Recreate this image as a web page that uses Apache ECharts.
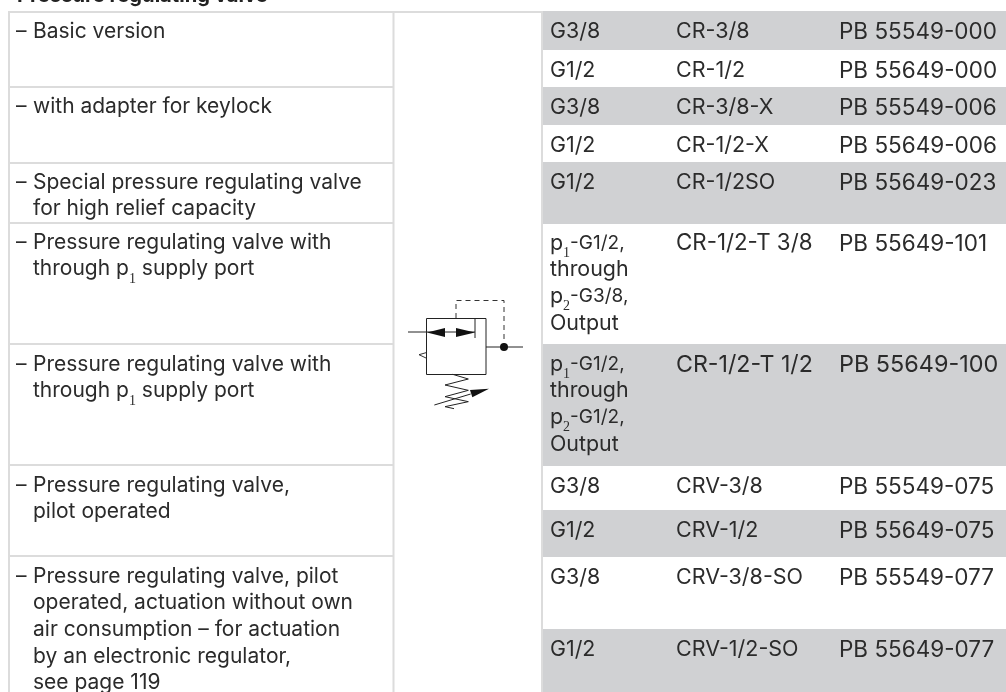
<!DOCTYPE html>
<html><head><meta charset="utf-8">
<style>html,body{margin:0;padding:0;background:#fff}#c{width:1006px;height:692px}</style>
<script src="https://cdn.jsdelivr.net/npm/echarts@6/dist/echarts.min.js"></script>
</head><body><div id="c"></div>
<script>
const title = "Pressure regulating valve";
const descriptions = [
  "– Basic version",
  "– with adapter for keylock",
  "– Special pressure regulating valve\nfor high relief capacity",
  "– Pressure regulating valve with\nthrough p{s|1} supply port",
  "– Pressure regulating valve with\nthrough p{s|1} supply port",
  "– Pressure regulating valve,\npilot operated",
  "– Pressure regulating valve, pilot\noperated, actuation without own\nair consumption – for actuation\nby an electronic regulator,\nsee page 119"
];
const ports = ["G3/8","G1/2","G3/8","G1/2","G1/2",
  "p{s|1}{c|-G1/2,}\nthrough\np{s|2}{c|-G3/8,}\nOutput",
  "p{s|1}{c|-G1/2,}\nthrough\np{s|2}{c|-G1/2,}\nOutput",
  "G3/8","G1/2","G3/8","G1/2"];
const models = ["CR-3/8","CR-1/2","CR-3/8-X","CR-1/2-X","CR-1/2SO","CR-1/2-T 3/8","CR-1/2-T 1/2","CRV-3/8","CRV-1/2","CRV-3/8-SO","CRV-1/2-SO"];
const partNumbers = ["PB 55549-000","PB 55649-000","PB 55549-006","PB 55649-006","PB 55649-023","PB 55649-101","PB 55649-100","PB 55549-075","PB 55649-075","PB 55549-077","PB 55649-077"];

// layout only
const leftEdges = [12,87,163,223,344,465,556,692];
const rightEdges = [11,50,87,125,162,224,344,466,510,557,629,692];
const FONT = "Inter";
const INK = "#2b2b2b", RULE = "#dcdcdc", BAND = "#d0d1d3";
const FS = 21;

const subRich = {
  s:{fontSize:14, fontFamily:"Liberation Serif", fill:INK, verticalAlign:'bottom', height:7},
  c:{fontSize:19, fontFamily:FONT, fontWeight:400, fill:INK}
};

function textEl(x,y,text,lh,fs){
  return {type:'text', x:x, y:y, style:{text:text, fontFamily:FONT, fontSize:fs||FS, fontWeight:400, fill:INK, lineHeight:lh, align:'left', verticalAlign:'top', rich:subRich}};
}

const chart = echarts.init(document.getElementById('c'), null, {renderer:'canvas'});
const toPt = (api,x,y)=>api.coord([x,y]);

function sp(x,y){return [380+x/3,270+y/3];}
const symbol = [
  {type:'polyline', shape:{points:[[408,332],[475,332]]}, style:{stroke:'#222',lineWidth:1,fill:null}},
  {type:'rect', shape:{x:426.5,y:318.5,width:59.5,height:56}, style:{stroke:'#222',lineWidth:1,fill:null}},
  {type:'polyline', shape:{points:[[475,318],[475,338]]}, style:{stroke:'#222',lineWidth:1,fill:null}},
  {type:'polygon', shape:{points:[[427,332.5],[445,328],[445,337]]}, style:{fill:'#111'}},
  {type:'polygon', shape:{points:[[475,332.5],[456,328],[456,337]]}, style:{fill:'#111'}},
  {type:'polyline', shape:{points:[[456,318],[456,300.5],[504,300.5],[504,347]]}, style:{stroke:'#333',lineWidth:1,lineDash:[5,4],fill:null}},
  {type:'polyline', shape:{points:[[486,347],[523,347]]}, style:{stroke:'#222',lineWidth:1,fill:null}},
  {type:'circle', shape:{cx:504,cy:347,r:4}, style:{fill:'#111'}},
  {type:'polyline', shape:{points:[[426,352.7],[419,354.7],[426,358]]}, style:{stroke:'#333',lineWidth:1,fill:null}},
  {type:'polyline', shape:{points:[[218,313],[265,327],[195,345],[265,361],[195,380],[265,395],[195,410],[222,416]].map(p=>sp(p[0],p[1]))}, style:{stroke:'#222',lineWidth:1,fill:null}},
  {type:'polyline', shape:{points:[sp(163,405),sp(272,372)]}, style:{stroke:'#222',lineWidth:1,fill:null}},
  {type:'polygon', shape:{points:[sp(327,356),sp(270,360),sp(277,382)]}, style:{fill:'#111'}}
];

chart.setOption({
  animation:false,
  backgroundColor:'#fff',
  grid:{left:0,right:0,top:0,bottom:0},
  xAxis:{type:'value',min:0,max:1006,show:false},
  yAxis:{type:'value',min:0,max:692,inverse:true,show:false},
  graphic:[{type:'group',silent:true,children:[
    {type:'text',x:17,y:6,style:{text:title,fontFamily:"Inter",fontSize:20.2,fontWeight:'bold',fill:'#222',verticalAlign:'bottom'}},
    {type:'rect',shape:{x:8,y:11,width:534,height:2},style:{fill:RULE}},
    {type:'rect',shape:{x:8,y:11,width:2,height:681},style:{fill:RULE}},
    {type:'rect',shape:{x:392.5,y:11,width:2,height:681},style:{fill:RULE}},
    {type:'rect',shape:{x:541,y:11,width:2,height:681},style:{fill:RULE}},
    ...symbol
  ]}],
  series:[
    {type:'custom',coordinateSystem:'cartesian2d',silent:true,clip:true,z:1,
     data:partNumbers.map((_,i)=>[i]),
     renderItem:(p,api)=>{
       const i=api.value(0);
       if(i%2===1) return {type:'group',children:[]};
       const a=toPt(api,543,rightEdges[i]), b=toPt(api,1006,rightEdges[i+1]);
       return {type:'rect',shape:{x:a[0],y:a[1],width:b[0]-a[0],height:b[1]-a[1]},style:{fill:BAND}};
     }},
    {type:'custom',coordinateSystem:'cartesian2d',silent:true,clip:false,z:3,
     data:descriptions.map((_,i)=>[i]),
     renderItem:(p,api)=>{
       const i=api.value(0);
       const top=leftEdges[i];
       const line = i>0 ? {type:'rect',shape:{x:10,y:top-1,width:383,height:2},style:{fill:RULE}} : {type:'group',children:[]};
       const lines=descriptions[i].split("\n");
       const dash=lines[0].slice(0,1), first=lines[0].slice(2);
       const off=i<4?6:7;
       const pos=toPt(api,33,top+off);
       const dp=toPt(api,16,top+off);
       return {type:'group',children:[
         line,
         textEl(dp[0],dp[1],dash,26.7),
         textEl(pos[0],pos[1],[first,...lines.slice(1)].join("\n"),26.7)
       ]};
     }},
    {type:'custom',coordinateSystem:'cartesian2d',silent:true,clip:false,z:4,
     data:partNumbers.map((_,i)=>[i]),
     renderItem:(p,api)=>{
       const i=api.value(0);
       const top=rightEdges[i]+(i===5?6:7);
       const a=toPt(api,550,top), b=toPt(api,676,top), c=toPt(api,839,top);
       return {type:'group',children:[
         textEl(a[0],a[1],ports[i],26.7,21.4),
         textEl(b[0],b[1],models[i],27.5,i===5?22.3:i===6?23.2:21.5),
         textEl(c[0],c[1],partNumbers[i],27.5,i===6?23.4:22.5)
       ]};
     }}
  ]
});
</script></body></html>
